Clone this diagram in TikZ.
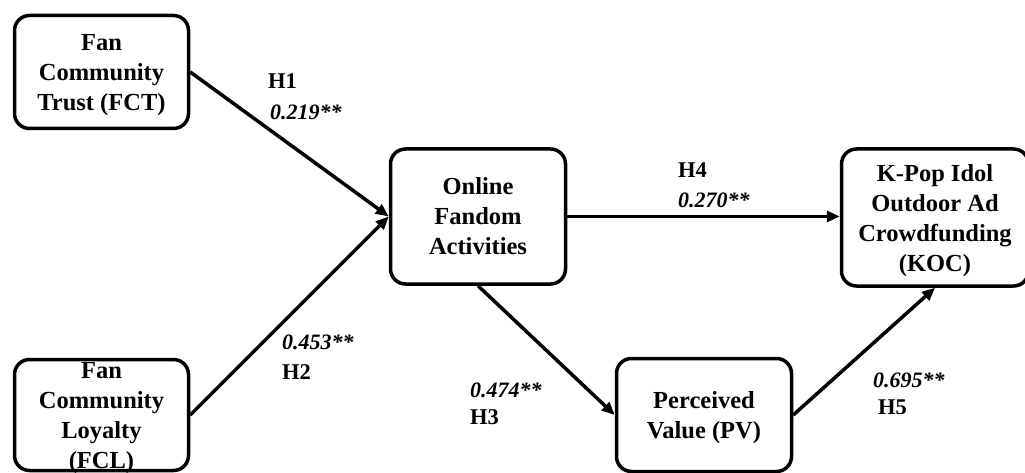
\documentclass[tikz,border=0pt]{standalone}
\usepackage{fontspec}
\setmainfont{Liberation Serif}
\usetikzlibrary{arrows.meta}
\tikzset{
  var/.style={draw, line width=3.5pt, rounded corners=15pt, align=center,
    inner sep=0pt, text depth=0pt, font=\fontsize{24.5}{30}\selectfont\bfseries},
  link/.style={-{Triangle[length=13pt,width=11pt]}, line width=3.5pt},
  hyp/.style={anchor=west, inner sep=0pt, font=\fontsize{22.5}{26}\selectfont\bfseries},
  coef/.style={anchor=west, inner sep=0pt, font=\fontsize{22}{26}\selectfont\bfseries\itshape}
}
\begin{document}
\begin{tikzpicture}[x=1pt,y=-1pt]
    \useasboundingbox (0,0) rectangle (1025,473);

    \node[var, minimum width=174pt, minimum height=113pt] (FCT) at (101.5,72) {Fan\\Community\\Trust (FCT)};
    \node[var, minimum width=174pt, minimum height=111pt] (FCL) at (101.5,415) {Fan\\Community\\Loyalty\\(FCL)};
    \node[var, minimum width=175pt, minimum height=135pt] (OFA) at (478,216.5) {Online\\Fandom\\Activities};
    \node[var, minimum width=187pt, minimum height=137pt] (KOC) at (935,217.5) {K-Pop Idol\\Outdoor Ad\\Crowdfunding\\(KOC)};
    \node[var, minimum width=175pt, minimum height=113pt] (PV) at (704,415) {Perceived\\Value (PV)};

    \node[hyp] (h1) at (268,81) {H1};
    \node[coef] (c1) at (270,112) {0.219**};
    \node[coef] (c2) at (282,342) {0.453**};
    \node[hyp] (h2) at (282,372) {H2};
    \node[coef] (c3) at (470,390) {0.474**};
    \node[hyp] (h3) at (470,417) {H3};
    \node[hyp] (h4) at (678,170) {H4};
    \node[coef] (c4) at (678,200) {0.270**};
    \node[coef] (c5) at (873,380) {0.695**};
    \node[hyp] (h5) at (878,407) {H5};

    \draw [link] (FCT.east) -- (OFA.west);
    \draw [link] (FCL.east) -- (OFA.west);
    \draw [link] (OFA.east) -- (OFA.east -| KOC.west);
    \draw [link] (OFA.south) -- (PV.west);
    \draw [link] (PV.east) -- (KOC.south);
\end{tikzpicture}
\end{document}
